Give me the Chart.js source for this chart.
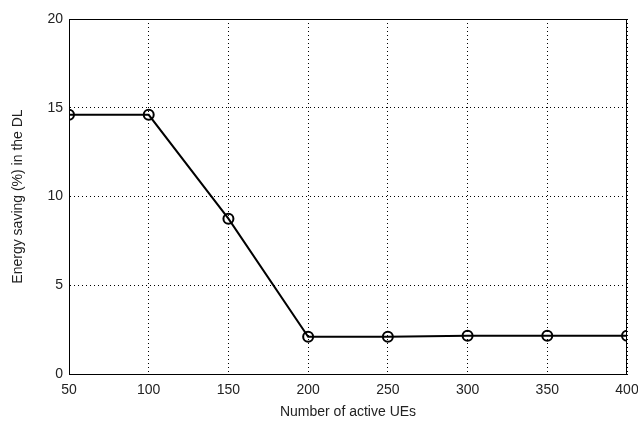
<!DOCTYPE html>
<html>
<head>
<meta charset="utf-8">
<script src="https://cdn.jsdelivr.net/npm/chart.js@4/dist/chart.umd.min.js"></script>
<style>
  html, body { margin: 0; padding: 0; background: #fff; }
  #wrap { width: 638px; height: 425px; }
</style>
</head>
<body>
<div id="wrap"><canvas id="myChart"></canvas></div>
<script>
// data
const users = [50, 100, 150, 200, 250, 300, 350, 400];
const saving = [14.6, 14.6, 8.75, 2.1, 2.1, 2.15, 2.15, 2.15];
const xTicks = [50, 100, 150, 200, 250, 300, 350, 400];
const yTicks = [0, 5, 10, 15, 20];

const points = users.map((u, i) => ({ x: u, y: saving[i] }));

// box around the plot area, like matlab
const boxPlugin = {
    id: 'box',
    afterDraw(chart) {
        const a = chart.chartArea;
        const c = chart.ctx;
        c.save();
        c.strokeStyle = '#000';
        c.lineWidth = 1;
        c.strokeRect(a.left + 0.5, a.top + 0.5, a.right - a.left - 1, a.bottom - a.top);
        c.restore();
    }
};

const font = { family: "'Liberation Sans', Arial, sans-serif", size: 14 };

const ctx = document.getElementById('myChart').getContext('2d');
const myChart = new Chart(ctx, {
    type: 'line',
    data: {
        datasets: [{
            data: points,
            borderColor: '#000',
            borderWidth: 2,
            pointStyle: 'circle',
            pointRadius: 5,
            pointBorderWidth: 2,
            pointBorderColor: '#000',
            pointBackgroundColor: 'rgba(0,0,0,0)',
            tension: 0
        }]
    },
    options: {
        responsive: true,
        maintainAspectRatio: false,
        animation: false,
        layout: { padding: { top: 19, right: 11, left: 0, bottom: 0 } },
        plugins: { legend: { display: false }, tooltip: { enabled: false } },
        scales: {
            x: {
                type: 'linear',
                min: 50,
                max: 400,
                afterBuildTicks: (axis) => { axis.ticks = xTicks.map(v => ({ value: v })); },
                afterFit: (axis) => {
                    axis.height = 51;
                    axis.paddingLeft = 0;
                    axis.paddingRight = 0;
                },
                grid: {
                    color: '#000',
                    lineWidth: 1,
                    tickLength: 0,
                    drawTicks: false
                },
                border: { color: '#000', dash: [1, 3], display: true },
                ticks: { color: '#222', font: font, padding: 8, maxRotation: 0 },
                title: { display: true, text: 'Number of active UEs', color: '#222', font: font, padding: { top: 0 } }
            },
            y: {
                type: 'linear',
                min: 0,
                max: 20,
                afterBuildTicks: (axis) => { axis.ticks = yTicks.map(v => ({ value: v })); },
                afterFit: (axis) => { axis.width = 69; },
                grid: {
                    color: '#000',
                    lineWidth: 1,
                    tickLength: 0,
                    drawTicks: false
                },
                border: { color: '#000', dash: [1, 3], display: true },
                ticks: { color: '#222', font: font, padding: 6 },
                title: { display: true, text: 'Energy saving (%) in the DL', color: '#222', font: font, padding: { top: 10, bottom: 2 } }
            }
        }
    },
    plugins: [boxPlugin]
});
</script>
</body>
</html>
